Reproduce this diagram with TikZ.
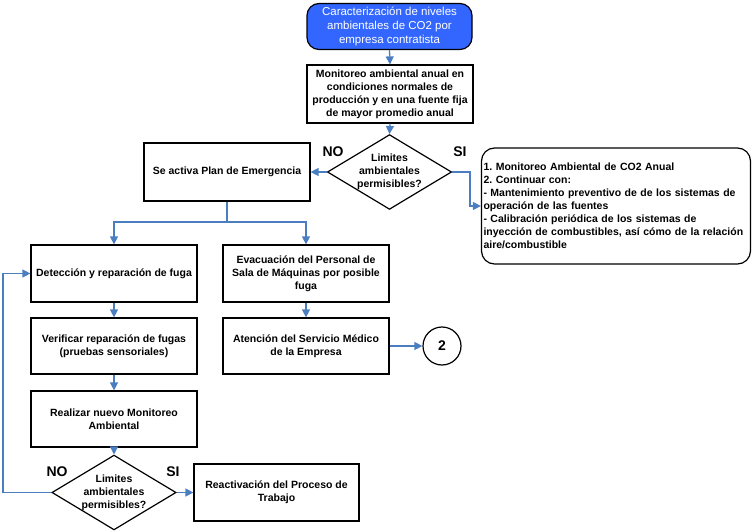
\documentclass[tikz,border=0pt]{standalone}
\usepackage{fontspec}
\setmainfont{Liberation Sans}
\usetikzlibrary{arrows.meta,shapes.geometric}
\frenchspacing
\definecolor{linkblue}{RGB}{74,126,193}
\definecolor{startblue}{RGB}{51,102,255}
\tikzset{
  box/.style={draw=black, line width=1.2pt, inner sep=2pt, align=center,
    font=\bfseries\fontsize{10.5}{13}\selectfont},
  startbox/.style={draw=black, line width=1.2pt, rounded corners=12pt, fill=startblue,
    text=white, align=center, minimum width=165pt, minimum height=46pt,
    font=\fontsize{11.5}{14}\selectfont},
  notebox/.style={draw=black, line width=1.2pt, rounded corners=13pt, align=left,
    minimum width=269pt, minimum height=116pt, text width=265pt, inner sep=2pt,
    font=\bfseries\fontsize{10.5}{13}\selectfont},
  decision/.style={draw=black, line width=1.2pt, diamond, aspect=1.66, inner sep=0pt,
    align=center, font=\bfseries\fontsize{10.5}{13}\selectfont},
  endcircle/.style={draw=black, line width=1.2pt, circle, minimum size=38pt, inner sep=0pt,
    font=\bfseries\fontsize{14}{16}\selectfont},
  lbl/.style={font=\bfseries\fontsize{14}{16}\selectfont, inner sep=0pt},
  link/.style={draw=linkblue, line width=1.3pt},
  arr/.style={link, -{Triangle[length=8pt,width=8pt]}},
}
\begin{document}
\begin{tikzpicture}[x=1pt,y=-1pt]
\useasboundingbox (0,0) rectangle (753,532);

\node[startbox] (start) at (389.5,26.5) {Caracterización de niveles\\ambientales de CO2 por\\empresa contratista};
\node[box, minimum width=166pt, minimum height=58pt] (mon) at (390,94) {Monitoreo ambiental anual en\\condiciones normales de\\producción y en una fuente fija\\de mayor promedio anual};
\node[decision, minimum width=123pt, minimum height=74pt] (d1) at (389.5,172) {Limites\\ambientales\\permisibles?};
\node[box, minimum width=166pt, minimum height=58pt] (plan) at (227,172) {Se activa Plan de Emergencia};
\node[notebox] (notes) at (616,206) {1. Monitoreo Ambiental de CO2 Anual\\2. Continuar con:\\- Mantenimiento preventivo de de los sistemas de\\operación de las fuentes\\- Calibración periódica de los sistemas de\\inyección de combustibles, así cómo de la relación\\aire/combustible};
\node[box, minimum width=166pt, minimum height=57pt] (det) at (114,273.5) {Detección y reparación de fuga};
\node[box, minimum width=166pt, minimum height=57pt] (evac) at (306,273.5) {Evacuación del Personal de\\Sala de Máquinas por posible\\fuga};
\node[box, minimum width=166pt, minimum height=56pt] (ver) at (114,346) {Verificar reparación de fugas\\(pruebas sensoriales)};
\node[box, minimum width=166pt, minimum height=56pt] (aten) at (306,346) {Atención del Servicio Médico\\de la Empresa};
\node[box, minimum width=166pt, minimum height=56pt] (real) at (114,419) {Realizar nuevo Monitoreo\\Ambiental};
\node[decision, minimum width=122pt, minimum height=73pt] (d2) at (114,492.5) {Limites\\ambientales\\permisibles?};
\node[box, minimum width=165pt, minimum height=57pt] (react) at (276.5,492.5) {Reactivación del Proceso de\\Trabajo};
\node[endcircle] (c2) at (442,346) {2};

\node[lbl] (no1) at (333,152) {NO};
\node[lbl] (si1) at (460,152) {SI};
\node[lbl] (no2) at (57,472) {NO};
\node[lbl] (si2) at (173,472) {SI};

\coordinate (k1) at (470,172);
\coordinate (split) at (227,222);
\coordinate (lp) at (3,492.5);

\draw[arr] (start.south) -- (mon.north);
\draw[arr] (mon.south) -- (d1.north);
\draw[arr] (d1.west) -- (plan.east);
\draw[arr] (d1.east) -- (k1) |- (notes.west);
\draw[link] (plan.south) -- (split);
\draw[arr] (split) -| (det.north);
\draw[arr] (split) -| (evac.north);
\draw[arr] (det.south) -- (ver.north);
\draw[arr] (ver.south) -- (real.north);
\draw[arr] (real.south) -- (d2.north);
\draw[arr] (evac.south) -- (aten.north);
\draw[arr] (aten.east) -- (c2.west);
\draw[arr] (d2.east) -- (react.west);
\draw[arr] (d2.west) -- (lp) |- (det.west);
\end{tikzpicture}
\end{document}
